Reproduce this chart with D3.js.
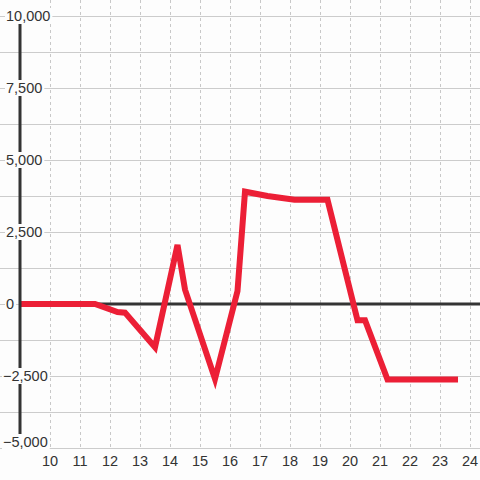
<!DOCTYPE html>
<html><head><meta charset="utf-8">
<script src="https://cdn.jsdelivr.net/npm/d3@7"></script>
<style>body{margin:0;background:#fdfdfd}svg{display:block}</style>
</head><body><svg id="c" width="480" height="480"></svg>
<script>
const xValues = [9, 11.5, 12.25, 12.5, 13.5, 14.25, 14.5, 15.5, 16.25, 16.5, 17.25, 18.15, 19.25, 20.25, 20.5, 21.25, 23.6];
const yValues = [0, 0, -280, -300, -1500, 2050, 500, -2600, 450, 3900, 3750, 3620, 3620, -560, -560, -2620, -2620];
const xTicks = [10, 11, 12, 13, 14, 15, 16, 17, 18, 19, 20, 21, 22, 23, 24];
const yTicks = [10000, 7500, 5000, 2500, 0, -2500, -5000];
const yGrid = [10000, 8750, 7500, 6250, 5000, 3750, 2500, 1250, 0, -1250, -2500, -3750, -5000];

const svg = d3.select("#c");
const W = 480, H = 480;
const x = d3.scaleLinear().domain([9, 24.333]).range([20, 480]);
const y = d3.scaleLinear().domain([-5000, 10000]).range([448, 16]);
const font = "'Liberation Sans', Arial, sans-serif";

svg.append("rect").attr("width", W).attr("height", H).attr("fill", "#fdfdfd");

// horizontal gridlines
svg.append("g").selectAll("line").data(yGrid).join("line")
  .attr("x1", 0).attr("x2", W)
  .attr("y1", d => Math.round(y(d)) + 0.5).attr("y2", d => Math.round(y(d)) + 0.5)
  .attr("stroke", "#cccccc").attr("stroke-width", 1);

// vertical dashed gridlines
svg.append("g").selectAll("line").data(xTicks).join("line")
  .attr("x1", d => Math.round(x(d)) + 0.5).attr("x2", d => Math.round(x(d)) + 0.5)
  .attr("y1", 0).attr("y2", y(-5000))
  .attr("stroke", "#c8c8c8").attr("stroke-width", 1).attr("stroke-dasharray", "3,3");

// zero line
svg.append("line").attr("x1", x(9)).attr("x2", W)
  .attr("y1", y(0)).attr("y2", y(0))
  .attr("stroke", "#333").attr("stroke-width", 3);

// data line
const pts = xValues.map((v, i) => [v, yValues[i]]);
svg.append("path").datum(pts)
  .attr("d", d3.line().x(d => x(d[0])).y(d => y(d[1])))
  .attr("fill", "none").attr("stroke", "#ec1f36").attr("stroke-width", 6)
  .attr("stroke-linejoin", "miter").attr("stroke-linecap", "butt");

// y axis line
svg.append("line").attr("x1", x(9)).attr("x2", x(9))
  .attr("y1", y(10000)).attr("y2", y(-5000))
  .attr("stroke", "#333").attr("stroke-width", 3);

// y labels with background
const yl = svg.append("g");
yTicks.forEach(v => {
  const cy = v === -5000 ? y(v) - 6 : y(v);
  const t = yl.append("text")
    .attr("x", v < 0 ? 3 : 6).attr("y", cy).attr("dy", "0.36em")
    .attr("font-family", font).attr("font-size", "14.5px").attr("fill", "#333")
    .text(d3.format(",")(v));
  const b = t.node().getBBox();
  yl.insert("rect", () => t.node())
    .attr("x", b.x - 1).attr("y", cy - 8).attr("width", b.width + 3).attr("height", 16)
    .attr("fill", "#fdfdfd");
});

// x labels
svg.append("g").selectAll("text").data(xTicks).join("text")
  .attr("x", d => x(d)).attr("y", 466)
  .attr("text-anchor", "middle")
  .attr("font-family", font).attr("font-size", "14.5px").attr("fill", "#333")
  .text(d => d);
</script></body></html>
